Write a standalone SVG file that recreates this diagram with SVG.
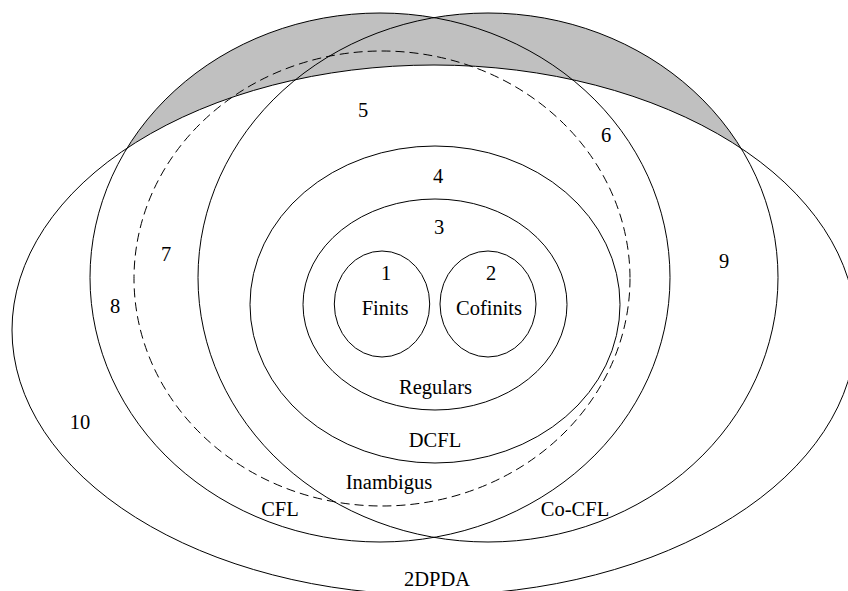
<svg xmlns="http://www.w3.org/2000/svg" width="848" height="591" viewBox="0 0 848 591">
<style>
.set{fill:none;stroke:#000;stroke-width:1}
.dash{fill:none;stroke:#000;stroke-width:1;stroke-dasharray:9 5}
text{font-family:"Liberation Serif","Times New Roman",serif;font-size:20.5px;fill:#000;text-anchor:middle}
</style>
<rect x="0" y="0" width="848" height="591" fill="#fff"/>
<g id="shading">
<ellipse cx="380" cy="277.5" rx="290" ry="264.5" fill="#c0c0c0"/>
<ellipse cx="488" cy="277.5" rx="290" ry="264.5" fill="#c0c0c0"/>
<ellipse cx="434" cy="330" rx="422" ry="265" fill="#fff"/>
</g>
<g id="twodpda">
<ellipse class="set" cx="434" cy="330" rx="422" ry="265"/>
<text x="437" y="586">2DPDA</text>
<text x="80" y="429">10</text>
</g>
<g id="cfl">
<ellipse class="set" cx="380" cy="277.5" rx="290" ry="264.5"/>
<text x="280" y="516">CFL</text>
<text x="115" y="313">8</text>
</g>
<g id="cocfl">
<ellipse class="set" cx="488" cy="277.5" rx="290" ry="264.5"/>
<text x="575" y="516">Co-CFL</text>
<text x="724" y="268">9</text>
</g>
<g id="inambigus">
<ellipse class="dash" cx="382" cy="278.5" rx="248" ry="227.5"/>
<text x="389" y="489">Inambigus</text>
<text x="166" y="261">7</text>
<text x="606" y="142">6</text>
<text x="363" y="117">5</text>
</g>
<g id="dcfl">
<ellipse class="set" cx="435" cy="304.5" rx="185" ry="158.5"/>
<text x="435" y="447">DCFL</text>
<text x="438" y="183">4</text>
</g>
<g id="regulars">
<ellipse class="set" cx="435" cy="304.5" rx="132" ry="105.5"/>
<text x="435.5" y="394">Regulars</text>
<text x="439" y="234">3</text>
</g>
<g id="finits">
<ellipse class="set" cx="382" cy="304" rx="47.7" ry="53"/>
<text x="385" y="315">Finits</text>
<text x="386" y="280">1</text>
</g>
<g id="cofinits">
<ellipse class="set" cx="488" cy="304" rx="48" ry="53"/>
<text x="489" y="315">Cofinits</text>
<text x="491" y="280">2</text>
</g>
<g id="connectors"/>
</svg>
